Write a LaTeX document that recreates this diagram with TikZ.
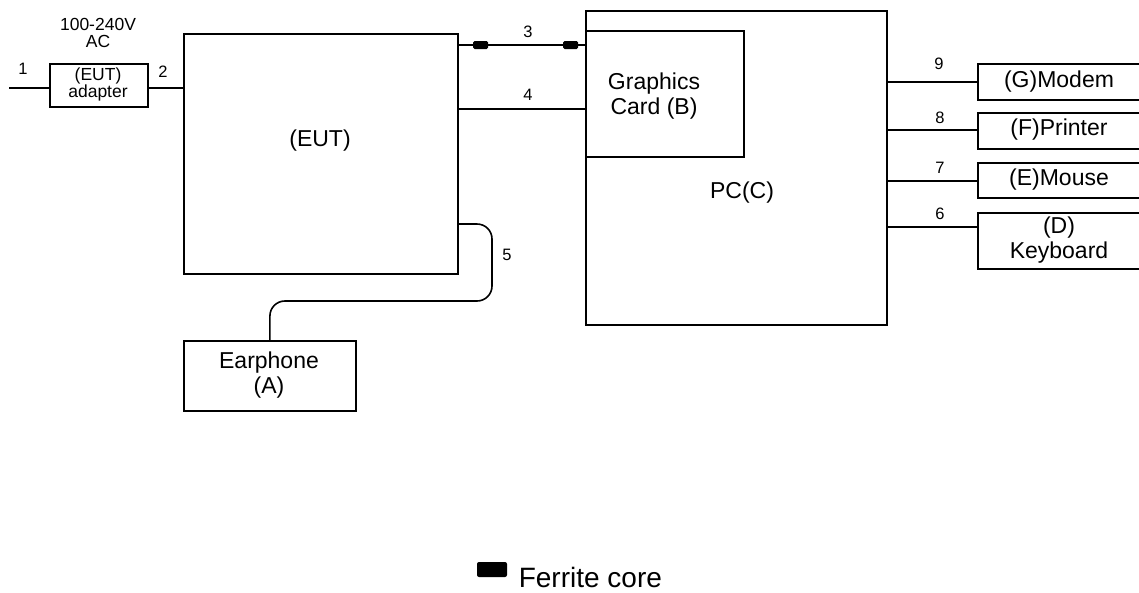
\documentclass[tikz,border=0pt]{standalone}
\usepackage{fontspec}
\setmainfont{Liberation Sans}
\begin{document}
\begin{tikzpicture}[x=1pt,y=-1pt,
  line width=1.6pt,
  box/.style={draw=black, line width=1.8pt, anchor=north west, inner sep=0pt},
  wire/.style={draw=black, line width=1.6pt},
  bigtxt/.style={font=\fontsize{23}{25}\selectfont, align=center, inner sep=0pt},
  smalltxt/.style={font=\fontsize{17.5}{17}\selectfont, align=center, inner sep=0pt},
  numtxt/.style={font=\fontsize{16.5}{17}\selectfont, inner sep=0pt},
  ferrite/.style={fill=black, draw=none, rounded corners=1.5pt, minimum width=15pt, minimum height=8pt, inner sep=0pt}]
\useasboundingbox (0,0) rectangle (1139,592);
% boxes
\node[box, minimum width=98pt, minimum height=43pt] (adapter) at (49,63) {};
\node[box, minimum width=274pt, minimum height=240pt] (eut) at (183,33) {};
\node[box, minimum width=301pt, minimum height=314pt] (pc) at (585,10) {};
\node[box, minimum width=158pt, minimum height=126pt] (gc) at (585,30) {};
\node[box, minimum width=172pt, minimum height=70pt] (ear) at (183,340) {};
\node[box, minimum width=166pt, minimum height=36pt] (modem) at (977,63) {};
\node[box, minimum width=166pt, minimum height=36pt] (printer) at (977,112) {};
\node[box, minimum width=166pt, minimum height=35pt] (mouse) at (977,162) {};
\node[box, minimum width=166pt, minimum height=56pt] (kbd) at (977,212) {};
% texts
\node[smalltxt] (adtxt) at (98,84) {(EUT)\\adapter};
\node[smalltxt] (actxt) at (98,33) {100-240V\\AC};
\node[bigtxt] (euttxt) at (320,141) {(EUT)};
\node[bigtxt] (pctxt) at (742,193) {PC(C)};
\node[bigtxt] (gctxt) at (654,96) {Graphics\\Card (B)};
\node[bigtxt] (eartxt) at (269,375) {Earphone\\(A)};
\node[bigtxt] (modemtxt) at (1059,82) {(G)Modem};
\node[bigtxt] (printertxt) at (1059,130) {(F)Printer};
\node[bigtxt] (mousetxt) at (1059,180) {(E)Mouse};
\node[bigtxt] (kbdtxt) at (1059,240) {(D)\\Keyboard};
% coordinates for wire heights
\coordinate (p1) at (9,88);
\coordinate (y3) at (0,45);
\coordinate (y4) at (0,109);
\coordinate (y5) at (0,224);
\coordinate (y9) at (0,82);
\coordinate (y8) at (0,130);
\coordinate (y7) at (0,181);
\coordinate (y6) at (0,227);
% wires
\draw[wire] (p1) -- (p1 -| adapter.west);
\draw[wire] (adapter.east |- p1) -- (p1 -| eut.west);
\draw[wire] (y3 -| eut.east) -- (y3 -| pc.west);
\draw[wire] (y4 -| eut.east) -- (y4 -| pc.west);
\draw[wire, rounded corners=15pt] (y5 -| eut.east) -| (492,301) -| (ear.north);
\draw[wire] (y9 -| pc.east) -- (y9 -| modem.west);
\draw[wire] (y8 -| pc.east) -- (y8 -| printer.west);
\draw[wire] (y7 -| pc.east) -- (y7 -| mouse.west);
\draw[wire] (y6 -| pc.east) -- (y6 -| kbd.west);
% ferrite cores
\node[ferrite] (f1) at (480.5,45) {};
\node[ferrite] (f2) at (570.5,45) {};
% labels
\node[numtxt] (l1) at (23,69) {1};
\node[numtxt] (l2) at (163,72) {2};
\node[numtxt] (l3) at (528,32) {3};
\node[numtxt] (l4) at (528,95) {4};
\node[numtxt] (l5) at (507,255) {5};
\node[numtxt] (l9) at (939,64) {9};
\node[numtxt] (l8) at (940,118) {8};
\node[numtxt] (l7) at (940,168) {7};
\node[numtxt] (l6) at (940,214) {6};
% legend
\node[fill=black, rounded corners=2pt, minimum width=30pt, minimum height=15pt, inner sep=0pt] (legbox) at (492,569.5) {};
\node[font=\fontsize{28}{30}\selectfont, anchor=base west, inner sep=0pt] (legtxt) at (518,587) {Ferrite core};
\end{tikzpicture}
\end{document}
